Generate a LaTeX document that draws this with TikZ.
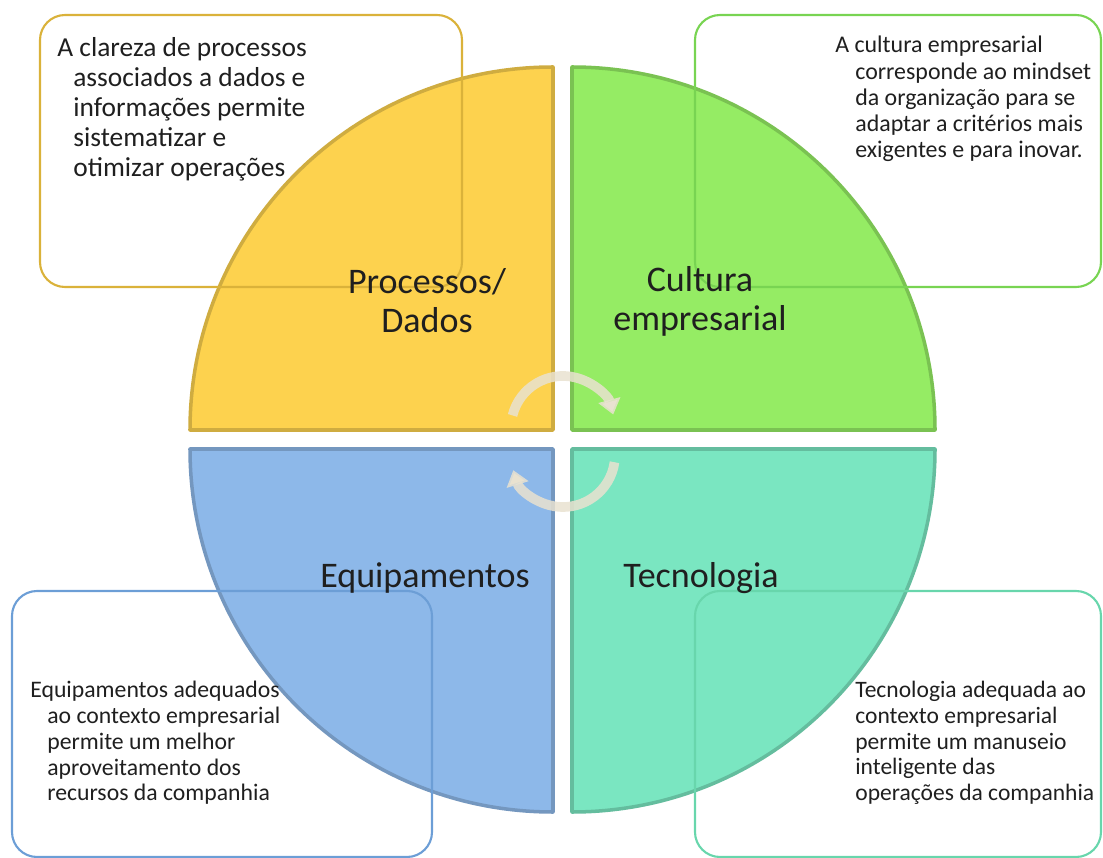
\documentclass[tikz,border=0pt]{standalone}
\usepackage{fontspec}
\setmainfont{Carlito}
\usetikzlibrary{arrows.meta}

\definecolor{amarelo}{RGB}{253,210,78}
\definecolor{verde}{RGB}{149,236,100}
\definecolor{azul}{RGB}{141,184,233}
\definecolor{turquesa}{RGB}{122,230,193}
\definecolor{bordaamarela}{RGB}{218,178,58}
\definecolor{bordaverde}{RGB}{120,212,82}
\definecolor{bordaazul}{RGB}{108,158,214}
\definecolor{bordaturquesa}{RGB}{104,214,172}
\definecolor{bege}{RGB}{233,226,208}
\newcommand{\recuo}[1][0.32cm]{\hspace*{#1}}

\begin{document}
\begin{tikzpicture}[x=0.02cm, y=-0.02cm,
  quadrante/.style={line width=2pt, line join=round},
  caixa/.style={rounded corners=0.5cm, line width=1.2pt},
  texto/.style={anchor=north west, inner sep=0pt, align=left, text=black!88, font=\fontsize{15.6}{17.1}\selectfont},
  rotulo/.style={align=center, text=black!88, font=\fontsize{20.5}{22.3}\selectfont},
  ciclo/.style={line width=5.5pt, draw=bege, draw opacity=0.85, -{Triangle[length=0.3cm, width=0.44cm]}}]
\useasboundingbox (0,0) rectangle (1103,858);

% quadrants
\filldraw[quadrante, fill=amarelo, draw=amarelo!82!black] (553,430) -- (190,430) arc[start angle=180, end angle=270, radius=363] -- cycle;
\filldraw[quadrante, fill=verde, draw=verde!82!black] (572,430) -- (572,67) arc[start angle=270, end angle=360, radius=363] -- cycle;
\filldraw[quadrante, fill=azul, draw=azul!82!black] (553,449) -- (553,812) arc[start angle=90, end angle=180, radius=363] -- cycle;
\filldraw[quadrante, fill=turquesa, draw=turquesa!82!black] (572,449) -- (935,449) arc[start angle=0, end angle=90, radius=363] -- cycle;

% text boxes
\draw[caixa, draw=bordaamarela] (40,15) rectangle (462,287);
\draw[caixa, draw=bordaverde] (695,15) rectangle (1101,287);
\draw[caixa, draw=bordaazul] (12,591) rectangle (432,857);
\draw[caixa, draw=bordaturquesa] (695,591) rectangle (1101,857);

% cycle arrows
\draw[ciclo] (563,428) ++(194:52) arc[start angle=194, end angle=345, radius=52];
\draw[ciclo] (563,455) ++(8:52) arc[start angle=8, end angle=163, radius=52];

\node (processos) [rotulo] at (427,301) {Processos/\\Dados};
\node (cultura) [rotulo] at (700,301) {Cultura\\empresarial};
\node (equipamentos) [rotulo] at (425,578) {Equipamentos};
\node (tecnologia) [rotulo] at (701,578) {Tecnologia};

\node (txtprocessos) [texto] at (57,37) {A clareza de processos\\\recuo associados a dados e\\\recuo informações permite\\\recuo sistematizar e\\\recuo otimizar operações};
\node (txtcultura) [texto, font=\fontsize{13.6}{14.9}\selectfont] at (835,36) {A cultura empresarial\\\recuo[0.4cm]corresponde ao mindset\\\recuo[0.4cm]da organização para se\\\recuo[0.4cm]adaptar a critérios mais\\\recuo[0.4cm]exigentes e para inovar.};
\node (txtequipamentos) [texto, font=\fontsize{13.5}{14.65}\selectfont] at (30,681) {Equipamentos adequados\\\recuo[0.34cm]ao contexto empresarial\\\recuo[0.34cm]permite um melhor\\\recuo[0.34cm]aproveitamento dos\\\recuo[0.34cm]recursos da companhia};
\node (txttecnologia) [texto, font=\fontsize{13.4}{14.65}\selectfont] at (855,681) {Tecnologia adequada ao\\contexto empresarial\\permite um manuseio\\inteligente das\\operações da companhia};
\end{tikzpicture}
\end{document}
